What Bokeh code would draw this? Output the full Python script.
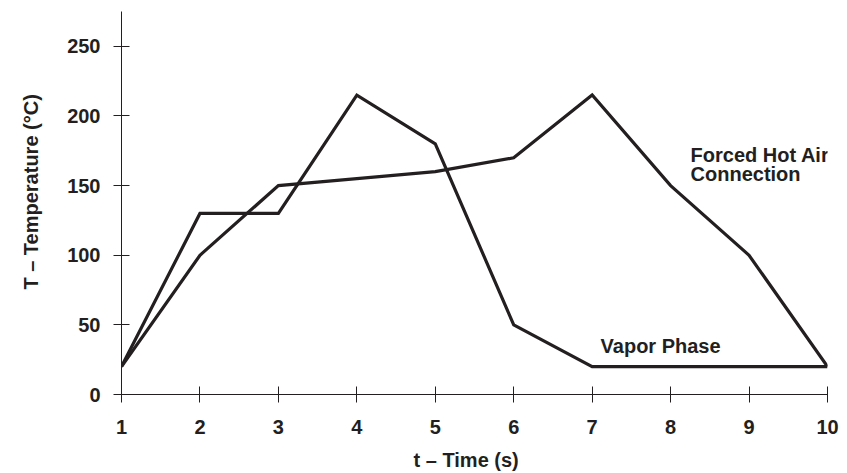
from bokeh.plotting import figure
from bokeh.models import Range1d, Label, FixedTicker
from bokeh.embed import file_html
from bokeh.resources import INLINE

time_s = [1, 2, 3, 4, 5, 6, 7, 8, 9, 10]
vapor_phase = [20, 130, 130, 215, 180, 50, 20, 20, 20, 20]
forced_hot_air = [20, 100, 150, 155, 160, 170, 215, 150, 100, 20]
x_ticks = [1, 2, 3, 4, 5, 6, 7, 8, 9, 10]
y_ticks = [0, 50, 100, 150, 200, 250]

FONT = "Liberation Sans"
INK = "#231f20"
NB = "\u00a0"

p = figure(width=847, height=473, output_backend="svg", toolbar_location=None,
           x_range=Range1d(1, 10), y_range=Range1d(0, 275),
           min_border_left=121, min_border_right=20, min_border_top=11, min_border_bottom=77)
p.outline_line_color = None
p.xgrid.visible = False
p.ygrid.visible = False

for ax in (p.xaxis[0], p.yaxis[0]):
    ax.axis_line_color = INK
    ax.axis_line_width = 1
    ax.major_tick_line_color = INK
    ax.major_tick_in = 8
    ax.major_tick_out = 8
    ax.minor_tick_line_color = None
    ax.major_label_text_font = FONT
    ax.major_label_text_font_style = "bold"
    ax.major_label_text_font_size = "20px"
    ax.major_label_text_color = INK
    ax.axis_label_text_font = FONT
    ax.axis_label_text_font_style = "bold"
    ax.axis_label_text_font_size = "20px"
    ax.axis_label_text_color = INK
p.xaxis.ticker = FixedTicker(ticks=x_ticks)
p.yaxis.ticker = FixedTicker(ticks=y_ticks)
p.xaxis.major_label_standoff = 17
p.yaxis.major_label_standoff = 13
p.xaxis.axis_label = "t \u2013 Time (s)" + NB * 3
p.yaxis.axis_label = NB * 4 + "T \u2013 Temperature (\u00b0C)"
p.xaxis.axis_label_standoff = 12
p.yaxis.axis_label_standoff = 22

p.line(time_s, vapor_phase, line_color=INK, line_width=3.2, line_join="miter")
p.line(time_s, forced_hot_air, line_color=INK, line_width=3.2, line_join="miter")

def lab(x, y, text):
    p.add_layout(Label(x=x, y=y, text=text, text_align="left",
                       text_baseline="middle", text_font=FONT, text_font_style="bold",
                       text_font_size="20px", text_color=INK))

lab(7.107, 35, "Vapor Phase")
lab(8.254, 172, "Forced Hot Air")
lab(8.254, 158.5, "Connection")

open("out.html", "w").write(file_html(p, INLINE))
